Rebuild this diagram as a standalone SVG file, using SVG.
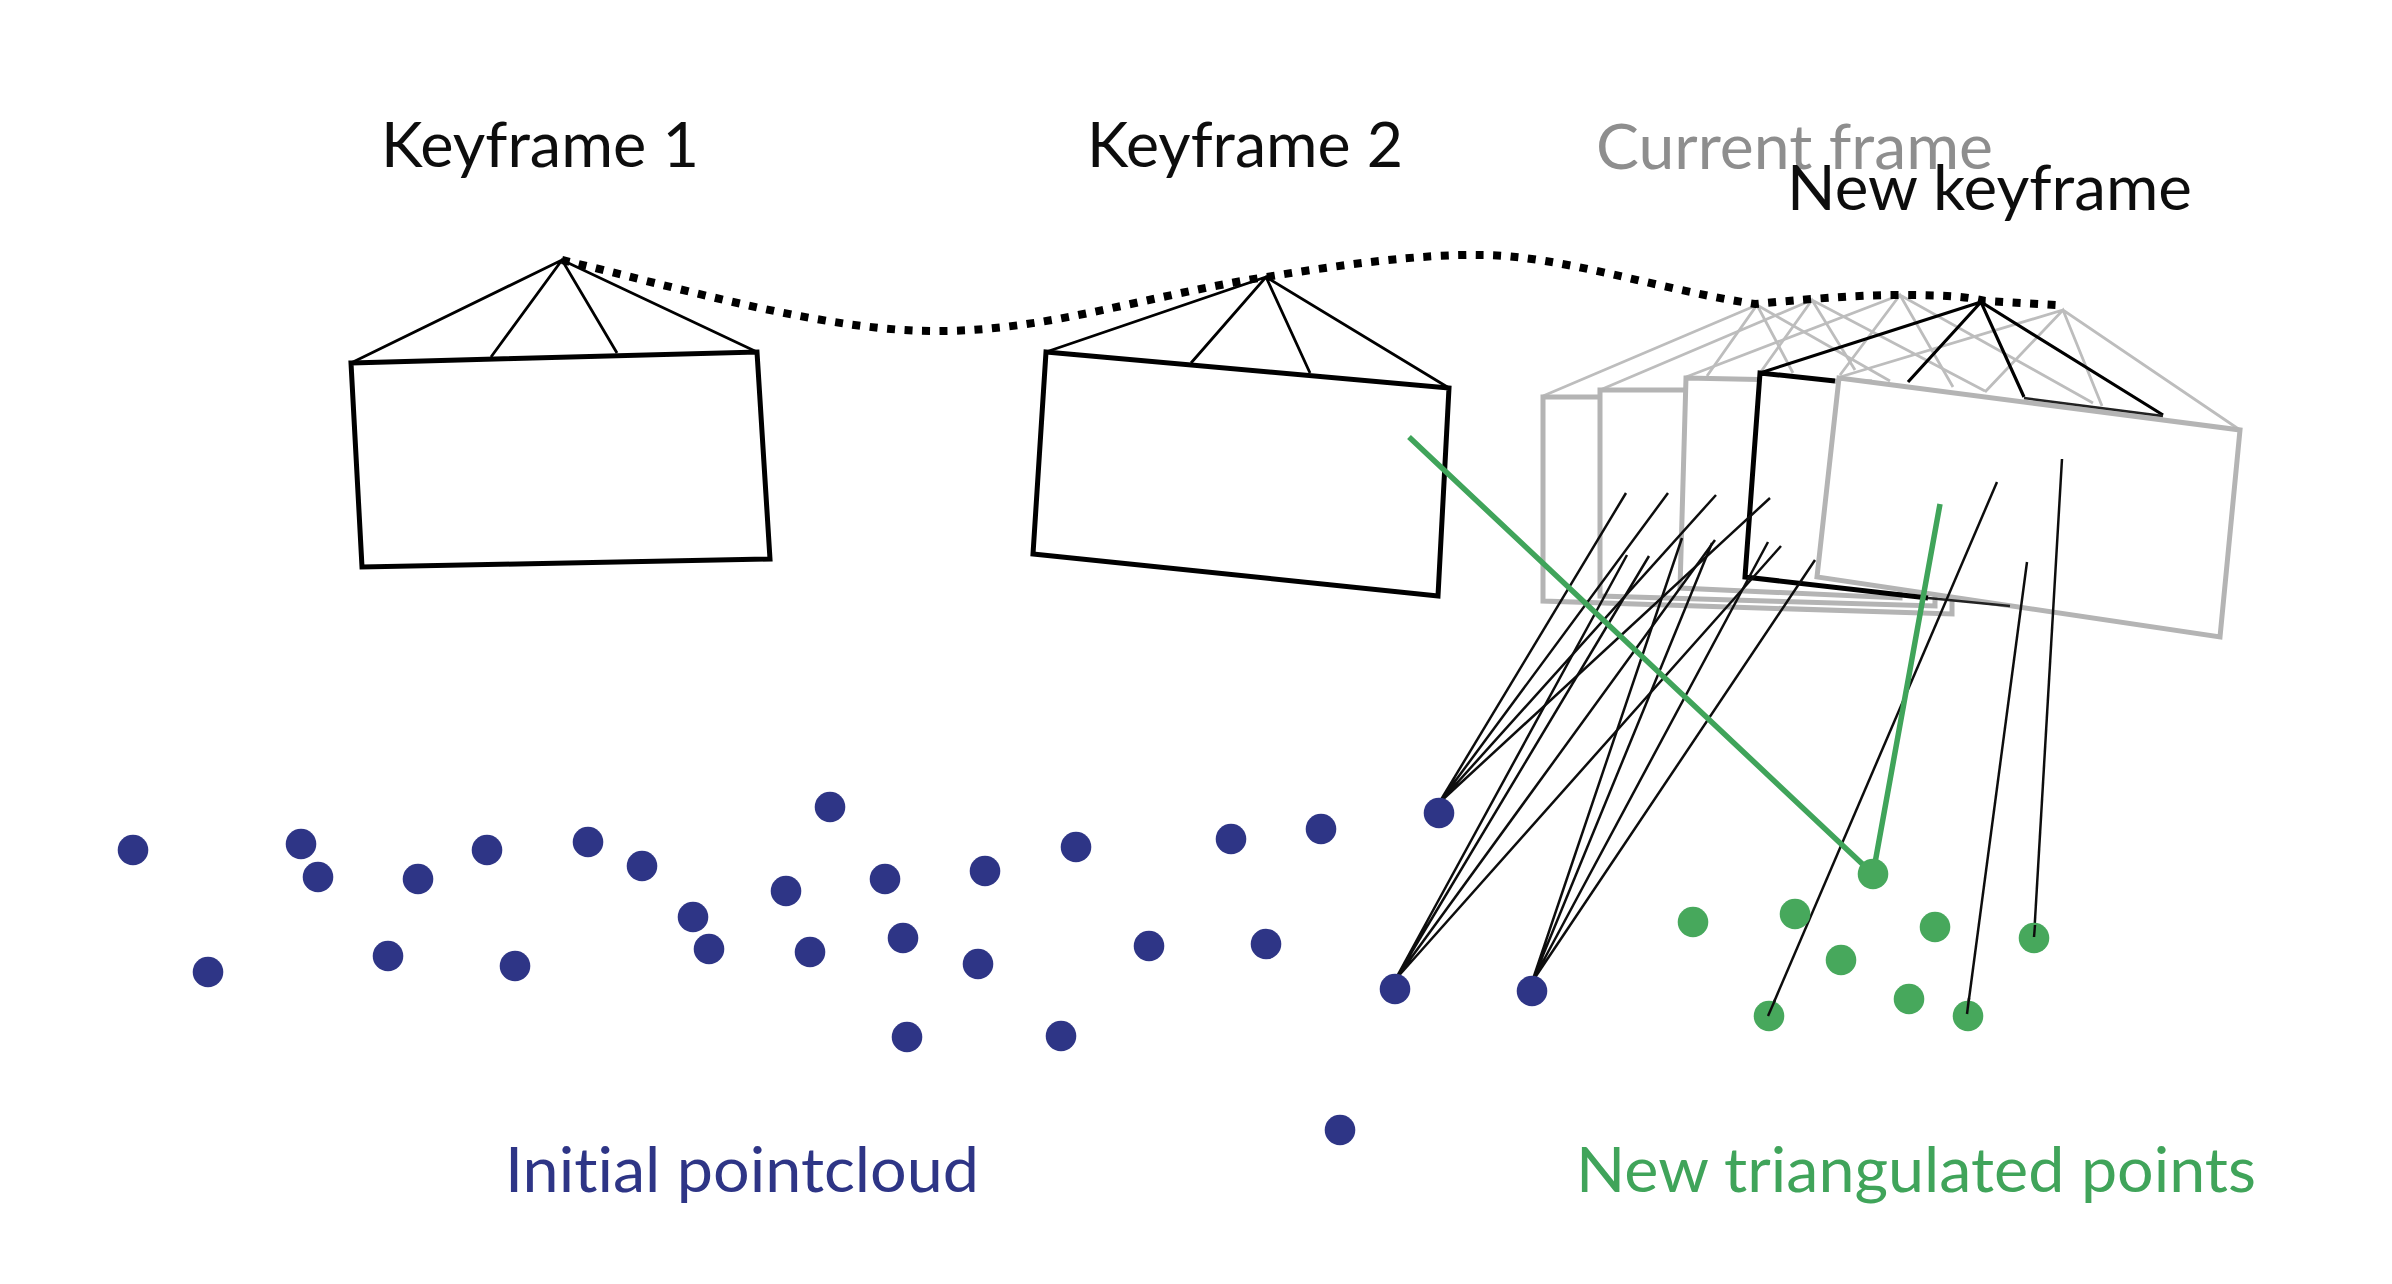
<svg xmlns="http://www.w3.org/2000/svg" width="2392" height="1284" viewBox="0 0 2392 1284">
<defs><filter id="soft" x="0" y="0" width="100%" height="100%" filterUnits="userSpaceOnUse"><feGaussianBlur stdDeviation="0.7"/></filter></defs>
<style>
text{font-family:"Lato","Open Sans","Liberation Sans",sans-serif;font-size:62px;fill:#111;font-variant-ligatures:none}
.frame{fill:#fff;stroke:#000;stroke-width:5}
.roof{fill:none;stroke:#000;stroke-width:2.8}
.gf{fill:#fff;stroke:#b4b4b4;stroke-width:5}
.gr{fill:none;stroke:#bdbdbd;stroke-width:2.8}
.ray{stroke:#111;stroke-width:2.5;fill:none}
.gray{stroke:#3fa45a;stroke-width:5.5;fill:none}
.b{fill:#2e3586}
.g{fill:#46a85c}
</style>
<rect width="2392" height="1284" fill="#fff"/>
<g filter="url(#soft)">
<g id="label-keyframe-1"><text x="381" y="167" textLength="318" lengthAdjust="spacingAndGlyphs">Keyframe 1</text></g>
<g id="label-keyframe-2"><text x="1087" y="167" textLength="316" lengthAdjust="spacingAndGlyphs">Keyframe 2</text></g>
<g id="label-current-frame"><text x="1596" y="169" textLength="397" lengthAdjust="spacingAndGlyphs" style="fill:#8e8e8e">Current frame</text></g>
<g id="keyframe-1">
<polygon class="frame" points="351,363 757,352 770,559 362,567"/>
<path class="roof" d="M351,363L562,260L757,352M491,357L562,260L617,353"/>
</g>
<g id="keyframe-2">
<polygon class="frame" points="1046,352 1449,388 1438,596 1033,554"/>
<path class="roof" d="M1046,352L1266,277L1449,388M1191,363L1266,277L1310,373"/>
</g>
<g id="current-frame-1">
<path class="gr" d="M1543,396L1757,305L1890,381M1707,376L1757,305L1793,373"/>
<polygon class="gf" points="1543,397 1840,397 1952,400 1952,614 1543,601"/>
</g>
<g id="current-frame-2">
<path class="gr" d="M1600,390L1812,300L1985,391M1760,373L1812,300L1855,370"/>
<polygon class="gf" points="1600,390 1880,390 1935,500 1935,606 1600,596"/>
</g>
<g id="current-frame-3">
<path class="gr" d="M1686,377L1900,295L2093,403M1840,375L1900,295L1953,387"/>
<polygon class="gf" points="1686,378 1870,382 1900,500 1900,598 1680,588"/>
</g>
<g id="new-keyframe-body"><polygon points="1760,373 1835,381 1814,578 1745,577" fill="#fff"/></g>
<g id="current-frame-4">
<path class="gr" d="M1840,377L2063,310L2240,430M1985,392L2063,310L2102,406"/>
<polygon class="gf" points="1839,378 2240,430 2220,637 1817,577"/>
</g>
<g id="new-keyframe">
<path class="roof" style="stroke-width:3.2" d="M1760,373L1981,302L2163,415M1908,382L1981,302L2024,397"/>
<path fill="none" stroke="#000" stroke-width="5" d="M1835,381L1760,373L1745,577L1928,598"/>
<path fill="none" stroke="#222" stroke-width="2.5" d="M2024,398L2163,416M1928,598L2010,606"/>
</g>
<g id="trajectory"><path fill="none" stroke="#000" stroke-width="8" stroke-dasharray="8 9.5" d="M562,260C680,288 830,333 943,331C1050,330 1150,295 1266,277C1340,265 1420,254 1480,255C1560,255 1660,290 1755,304C1800,300 1850,295 1900,295C1940,295 1965,296 1985,301L2056,305"/></g>
<g id="connectors">
<path class="ray" d="M1439,803L1626,493M1439,803L1668,493M1439,803L1716,495M1439,803L1770,498"/>
<path class="ray" d="M1395,980L1627,555M1395,980L1649,556M1395,980L1715,540M1395,980L1781,546"/>
<path class="ray" d="M1532,982L1682,538M1532,982L1712,543M1532,982L1768,542M1532,982L1815,560"/>
<path class="ray" d="M1997,482L1768,1016M2027,562L1967,1014M2062,459L2034,937"/>
<path class="gray" d="M1409,437L1873,874L1940,504"/>
</g>
<g id="initial-pointcloud">
<circle class="b" cx="133" cy="850" r="15.3"/><circle class="b" cx="301" cy="844" r="15.3"/><circle class="b" cx="318" cy="877" r="15.3"/><circle class="b" cx="418" cy="879" r="15.3"/><circle class="b" cx="487" cy="850" r="15.3"/><circle class="b" cx="588" cy="842" r="15.3"/><circle class="b" cx="642" cy="866" r="15.3"/><circle class="b" cx="830" cy="807" r="15.3"/><circle class="b" cx="786" cy="891" r="15.3"/><circle class="b" cx="693" cy="917" r="15.3"/><circle class="b" cx="709" cy="949" r="15.3"/><circle class="b" cx="810" cy="952" r="15.3"/><circle class="b" cx="885" cy="879" r="15.3"/><circle class="b" cx="903" cy="938" r="15.3"/><circle class="b" cx="985" cy="871" r="15.3"/><circle class="b" cx="978" cy="964" r="15.3"/><circle class="b" cx="1076" cy="847" r="15.3"/><circle class="b" cx="1231" cy="839" r="15.3"/><circle class="b" cx="1321" cy="829" r="15.3"/><circle class="b" cx="1439" cy="813" r="15.3"/><circle class="b" cx="1149" cy="946" r="15.3"/><circle class="b" cx="1266" cy="944" r="15.3"/><circle class="b" cx="208" cy="972" r="15.3"/><circle class="b" cx="388" cy="956" r="15.3"/><circle class="b" cx="515" cy="966" r="15.3"/><circle class="b" cx="907" cy="1037" r="15.3"/><circle class="b" cx="1061" cy="1036" r="15.3"/><circle class="b" cx="1340" cy="1130" r="15.3"/><circle class="b" cx="1395" cy="989" r="15.3"/><circle class="b" cx="1532" cy="991" r="15.3"/>
</g>
<g id="new-points">
<circle class="g" cx="1873" cy="874" r="15.3"/><circle class="g" cx="1693" cy="922" r="15.3"/><circle class="g" cx="1795" cy="914" r="15.3"/><circle class="g" cx="1935" cy="927" r="15.3"/><circle class="g" cx="2034" cy="938" r="15.3"/><circle class="g" cx="1841" cy="960" r="15.3"/><circle class="g" cx="1909" cy="999" r="15.3"/><circle class="g" cx="1769" cy="1016" r="15.3"/><circle class="g" cx="1968" cy="1016" r="15.3"/>
<path class="ray" d="M1768,1016L1775,1000M1967,1014L1969,998M2034,937L2035,925"/>
</g>
<g id="label-new-keyframe"><text x="1787" y="210" textLength="405" lengthAdjust="spacingAndGlyphs">New keyframe</text></g>
<g id="label-initial-pointcloud"><text x="505" y="1192" textLength="474" lengthAdjust="spacingAndGlyphs" style="fill:#2e3586">Initial pointcloud</text></g>
<g id="label-new-triangulated-points"><text x="1576" y="1192" textLength="680" lengthAdjust="spacingAndGlyphs" style="fill:#3fa45a">New triangulated points</text></g>
</g>
</svg>
